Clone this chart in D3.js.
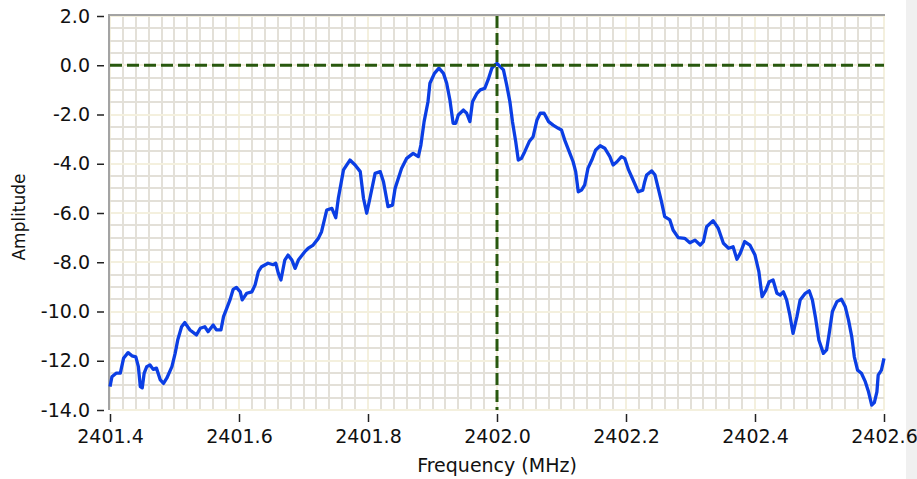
<!DOCTYPE html>
<html>
    <head>
        <meta charset="utf-8">
        <title> Spectrum </title>
        <script src="https://d3js.org/d3.v7.min.js"></script>
        <style>
            body { margin: 0; background: #ffffff; }
            text { font-family: "DejaVu Sans", Verdana, sans-serif; fill: #111111; }
        </style>
    </head>

    <body>
        <svg id="mainsvg" width="917" height="479"></svg>

        <script>
            // ----------Data----------//

            const freqs = [
                2401.400, 2401.403, 2401.410, 2401.416, 2401.421, 2401.428, 2401.434, 2401.440, 2401.444, 2401.447,
                2401.450, 2401.453, 2401.457, 2401.462, 2401.467, 2401.472, 2401.478, 2401.483, 2401.488, 2401.496,
                2401.501, 2401.505, 2401.511, 2401.516, 2401.524, 2401.534, 2401.540, 2401.547, 2401.552, 2401.560,
                2401.565, 2401.572, 2401.576, 2401.581, 2401.586, 2401.591, 2401.596, 2401.602, 2401.605, 2401.612,
                2401.620, 2401.625, 2401.630, 2401.635, 2401.645, 2401.653, 2401.657, 2401.661, 2401.665, 2401.671,
                2401.676, 2401.682, 2401.687, 2401.692, 2401.702, 2401.707, 2401.715, 2401.723, 2401.728, 2401.736,
                2401.744, 2401.750, 2401.754, 2401.762, 2401.772, 2401.780, 2401.788, 2401.793, 2401.798, 2401.803,
                2401.811, 2401.819, 2401.824, 2401.831, 2401.838, 2401.842, 2401.852, 2401.860, 2401.870, 2401.878,
                2401.882, 2401.887, 2401.893, 2401.896, 2401.903, 2401.910, 2401.917, 2401.922, 2401.927, 2401.932,
                2401.936, 2401.940, 2401.948, 2401.953, 2401.958, 2401.962, 2401.969, 2401.974, 2401.981, 2401.987,
                2401.992, 2401.997, 2402.000, 2402.010, 2402.015, 2402.020, 2402.024, 2402.029, 2402.033, 2402.038,
                2402.043, 2402.050, 2402.056, 2402.062, 2402.067, 2402.073, 2402.080, 2402.087, 2402.095, 2402.100,
                2402.105, 2402.113, 2402.118, 2402.122, 2402.126, 2402.131, 2402.136, 2402.141, 2402.147, 2402.153,
                2402.160, 2402.167, 2402.175, 2402.180, 2402.186, 2402.193, 2402.198, 2402.204, 2402.211, 2402.219,
                2402.226, 2402.229, 2402.232, 2402.240, 2402.245, 2402.250, 2402.255, 2402.260, 2402.268, 2402.273,
                2402.281, 2402.291, 2402.299, 2402.307, 2402.315, 2402.320, 2402.325, 2402.335, 2402.343, 2402.351,
                2402.359, 2402.366, 2402.372, 2402.377, 2402.384, 2402.392, 2402.400, 2402.406, 2402.411, 2402.417,
                2402.422, 2402.428, 2402.434, 2402.439, 2402.444, 2402.449, 2402.454, 2402.459, 2402.465, 2402.470,
                2402.478, 2402.484, 2402.489, 2402.494, 2402.499, 2402.506, 2402.511, 2402.515, 2402.520, 2402.527,
                2402.534, 2402.540, 2402.545, 2402.550, 2402.554, 2402.559, 2402.565, 2402.571, 2402.576, 2402.581,
                2402.585, 2402.589, 2402.591, 2402.596, 2402.600
            ];
            const amps = [
                -13.05, -12.65, -12.50, -12.50, -11.90, -11.67, -11.80, -11.84, -12.24, -13.05,
                -13.10, -12.50, -12.24, -12.17, -12.35, -12.30, -12.78, -12.92, -12.71, -12.24,
                -11.70, -11.16, -10.62, -10.45, -10.75, -10.95, -10.68, -10.62, -10.82, -10.55,
                -10.75, -10.75, -10.21, -9.87, -9.53, -9.10, -9.02, -9.20, -9.53, -9.26,
                -9.20, -8.92, -8.38, -8.18, -8.04, -8.10, -8.04, -8.45, -8.72, -7.91,
                -7.71, -7.91, -8.25, -7.91, -7.57, -7.44, -7.30, -7.03, -6.76, -5.88,
                -5.81, -6.19, -5.40, -4.25, -3.85, -4.05, -4.32, -5.40, -6.01, -5.40,
                -4.39, -4.32, -4.73, -5.74, -5.68, -5.00, -4.19, -3.78, -3.58, -3.71,
                -3.24, -2.29, -1.48, -0.73, -0.33, -0.12, -0.33, -0.73, -1.41, -2.36,
                -2.36, -2.02, -1.82, -1.95, -2.29, -1.48, -1.14, -1.00, -0.94, -0.53,
                -0.12, 0.02, 0.08, -0.19, -0.80, -1.48, -2.29, -3.10, -3.85, -3.78,
                -3.51, -3.10, -2.90, -2.22, -1.95, -1.95, -2.29, -2.43, -2.56, -2.63,
                -3.04, -3.58, -3.92, -4.32, -5.14, -5.07, -4.86, -4.19, -3.85, -3.44,
                -3.27, -3.37, -3.71, -4.05, -3.92, -3.71, -3.78, -4.25, -4.66, -5.14,
                -5.07, -4.73, -4.46, -4.29, -4.46, -5.00, -5.54, -6.15, -6.28, -6.69,
                -7.00, -7.03, -7.21, -7.10, -7.30, -7.16, -6.56, -6.31, -6.62, -7.23,
                -7.43, -7.37, -7.88, -7.64, -7.16, -7.30, -7.71, -8.38, -9.40, -9.13,
                -8.79, -8.72, -9.26, -9.33, -9.20, -9.53, -10.14, -10.89, -10.21, -9.53,
                -9.26, -9.16, -9.53, -10.28, -11.16, -11.70, -11.56, -10.89, -10.00, -9.60,
                -9.50, -9.81, -10.35, -11.02, -11.84, -12.38, -12.51, -12.85, -13.26, -13.80,
                -13.70, -13.26, -12.58, -12.38, -11.90
            ];

            const xTicks = [2401.4, 2401.6, 2401.8, 2402.0, 2402.2, 2402.4, 2402.6];
            const yTicks = [2, 0, -2, -4, -6, -8, -10, -12, -14];
            const cursorFreq = 2402.0;
            const cursorAmp = 0.0;

            // ----------Basic setting----------//

            const svg = d3.select("#mainsvg");
            const plot = {left: 110, right: 884, top: 16, bottom: 410};

            const xScale = d3.scaleLinear().domain([2401.4, 2402.6]).range([plot.left, plot.right]);
            const yScale = d3.scaleLinear().domain([-14, 2]).range([plot.bottom, plot.top]);

            // light strip on the right edge
            svg.append("rect")
                .attr("x", 906).attr("y", 0).attr("width", 11).attr("height", 479)
                .attr("fill", "#f0f0f0");

            // ----------Grid----------//

            const grid = svg.append("g");
            const xMinor = d3.range(0, 61).map(i => 2401.4 + i * 0.02);
            const yMinor = d3.range(0, 33).map(i => -14 + i * 0.5);

            // snap to whole pixels so the 2px lines stay crisp
            grid.selectAll(".vx").data(xMinor).join("line")
                .attr("x1", d => Math.round(xScale(d))).attr("x2", d => Math.round(xScale(d)))
                .attr("y1", plot.top).attr("y2", plot.bottom)
                .attr("stroke", (d, i) => i % 10 === 0 ? "#f4f0de" : "#e3e0d8")
                .attr("stroke-width", 2);

            grid.selectAll(".hy").data(yMinor).join("line")
                .attr("y1", d => Math.round(yScale(d))).attr("y2", d => Math.round(yScale(d)))
                .attr("x1", plot.left).attr("x2", plot.right)
                .attr("stroke", (d, i) => i % 4 === 0 ? "#f4f0de" : "#e3e0d8")
                .attr("stroke-width", 2);

            // frame: left and top edges
            svg.append("path")
                .attr("d", `M${plot.left - 1},${plot.bottom}V${plot.top - 1}H${plot.right + 1}`)
                .attr("fill", "none")
                .attr("stroke", "#a3a3a3")
                .attr("stroke-width", 2);

            // ----------Axes----------//

            const yAxis = d3.axisLeft(yScale)
                .tickValues(yTicks)
                .tickFormat(d => d.toFixed(1))
                .tickSize(7)
                .tickPadding(7);
            const yAxisGroup = svg.append("g")
                .attr("transform", `translate(${plot.left - 6}, 0)`)
                .call(yAxis);
            yAxisGroup.select(".domain").remove();
            yAxisGroup.selectAll("line").attr("stroke", "#222").attr("stroke-width", 1.5);
            yAxisGroup.selectAll("text").attr("font-size", 19).attr("fill", "#111")
                .attr("font-family", "DejaVu Sans");

            const xAxis = d3.axisBottom(xScale)
                .tickValues(xTicks)
                .tickFormat(d => d.toFixed(1))
                .tickSize(8)
                .tickPadding(8);
            const xAxisGroup = svg.append("g")
                .attr("transform", `translate(0, ${plot.bottom + 4})`)
                .call(xAxis);
            xAxisGroup.select(".domain").remove();
            xAxisGroup.selectAll("line").attr("stroke", "#222").attr("stroke-width", 1.5);
            xAxisGroup.selectAll("text").attr("font-size", 19).attr("fill", "#111")
                .attr("font-family", "DejaVu Sans");

            svg.append("text")
                .attr("x", (plot.left + plot.right) / 2)
                .attr("y", 472)
                .attr("text-anchor", "middle")
                .attr("font-size", 19)
                .text("Frequency (MHz)");

            svg.append("text")
                .attr("transform", "translate(25, 217) rotate(-90)")
                .attr("text-anchor", "middle")
                .attr("font-size", 17)
                .text("Amplitude");

            // ----------Spectrum line----------//

            const points = freqs.map((f, i) => [f, amps[i]]);
            const line = d3.line().x(d => xScale(d[0])).y(d => yScale(d[1]));

            svg.append("path")
                .datum(points)
                .attr("d", line)
                .attr("fill", "none")
                .attr("stroke", "#0b3ee4")
                .attr("stroke-width", 3.3)
                .attr("stroke-linejoin", "round");

            // ----------Cursor----------//

            const cursor = svg.append("g")
                .attr("stroke", "#28580e")
                .attr("stroke-width", 3)
                .attr("stroke-dasharray", "12,5");
            cursor.append("line")
                .attr("x1", xScale(cursorFreq)).attr("x2", xScale(cursorFreq))
                .attr("y1", plot.top).attr("y2", plot.bottom);
            cursor.append("line")
                .attr("x1", plot.left).attr("x2", plot.right)
                .attr("y1", yScale(cursorAmp)).attr("y2", yScale(cursorAmp));
        </script>
    </body>
</html>
